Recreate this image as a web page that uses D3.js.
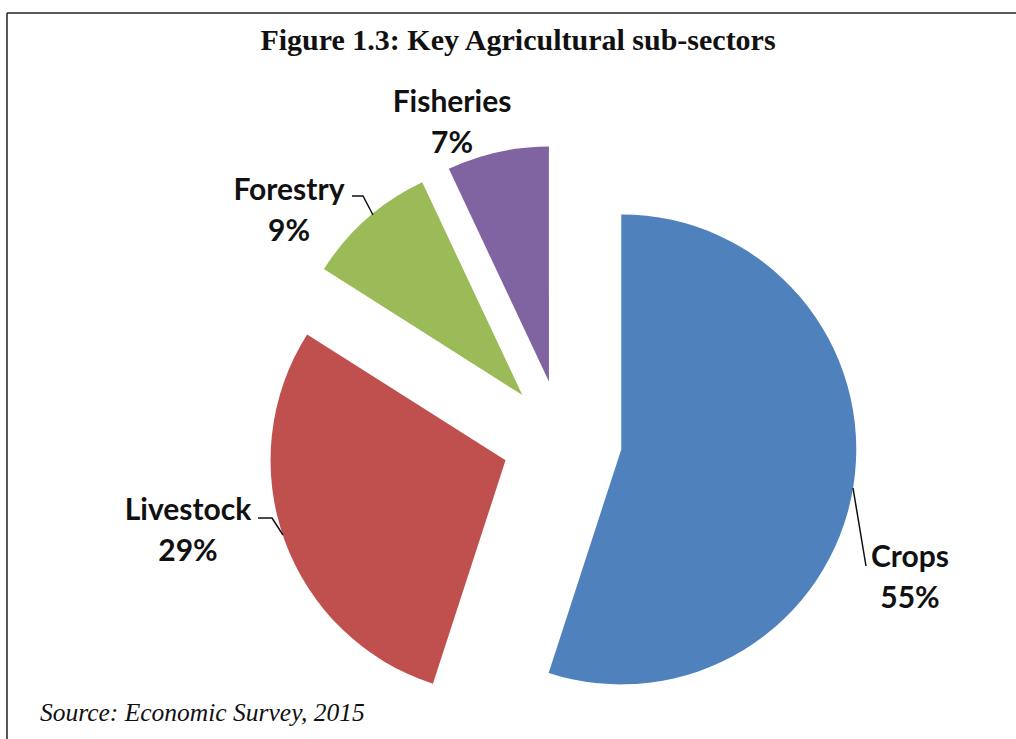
<!DOCTYPE html>
<html>
<head>
<meta charset="utf-8">
<script src="https://cdn.jsdelivr.net/npm/d3@7"></script>
<style>
  html, body { margin: 0; padding: 0; background: #fff; }
  svg { display: block; }
</style>
</head>
<body>
<svg id="chart" width="1016" height="739"></svg>
<script>
// Sub-sector shares of agriculture (percent)
const sectors = ["Crops", "Livestock", "Forestry", "Fisheries"];
const shares = [55, 29, 9, 7];
const colors = ["#4F81BD", "#C0504D", "#9BBB59", "#8064A2"];
const titleText = "Figure 1.3: Key Agricultural sub-sectors";
const sourceText = "Source: Economic Survey, 2015";

const svg = d3.select("#chart");
const W = 1016, H = 739;

// frame: top and left rules
svg.append("line").attr("x1", 7).attr("y1", 13).attr("x2", W).attr("y2", 13)
  .attr("stroke", "#222").attr("stroke-width", 1.5);
svg.append("line").attr("x1", 7).attr("y1", 13).attr("x2", 7).attr("y2", H)
  .attr("stroke", "#222").attr("stroke-width", 1.5);

svg.append("text")
  .attr("x", 518).attr("y", 50)
  .attr("text-anchor", "middle")
  .attr("font-family", "'Liberation Serif', serif")
  .attr("font-weight", "bold")
  .attr("font-size", 30)
  .attr("fill", "#111")
  .text(titleText);

svg.append("text")
  .attr("x", 40).attr("y", 721)
  .attr("font-family", "'Liberation Serif', serif")
  .attr("font-style", "italic")
  .attr("font-size", 25.5)
  .attr("fill", "#111")
  .text(sourceText);

// exploded pie
const cx = 562, cy = 440, R = 235, explode = 60;
const data = sectors.map((s, i) => ({ name: s, value: shares[i], color: colors[i] }));
const pie = d3.pie().value(d => d.value).sort(null);
const arc = d3.arc().innerRadius(0).outerRadius(R);
const arcs = pie(data);

const g = svg.append("g").attr("transform", `translate(${cx},${cy})`);
g.selectAll("path").data(arcs).enter().append("path")
  .attr("d", arc)
  .attr("fill", d => d.data.color)
  .attr("transform", d => {
    const m = (d.startAngle + d.endAngle) / 2;
    return `translate(${explode * Math.sin(m)},${-explode * Math.cos(m)})`;
  });

// data labels with leader lines (absolute page positions)
const labelPos = {
  Crops:     { x: 910, y: 567, leader: [[866, 566], [853, 488]] },
  Livestock: { x: 188, y: 520, leader: [[258, 518], [272, 518], [283, 535]] },
  Forestry:  { x: 289, y: 200, leader: [[352, 196], [363, 196], [373, 215]] },
  Fisheries: { x: 452, y: 112, leader: null }
};

const lab = svg.append("g")
  .attr("font-family", "Lato, 'Open Sans', sans-serif")
  .attr("font-weight", "bold")
  .attr("font-size", 30)
  .attr("fill", "#111")
  .attr("text-anchor", "middle");

data.forEach(d => {
  const p = labelPos[d.name];
  const t = lab.append("text").attr("x", p.x).attr("y", p.y);
  t.append("tspan").attr("x", p.x).attr("dy", 0).text(d.name);
  t.append("tspan").attr("x", p.x).attr("dy", 41).text(d.value + "%");
  if (p.leader) {
    svg.append("path")
      .attr("d", d3.line()(p.leader))
      .attr("fill", "none")
      .attr("stroke", "#111")
      .attr("stroke-width", 1.5);
  }
});
</script>
</body>
</html>
